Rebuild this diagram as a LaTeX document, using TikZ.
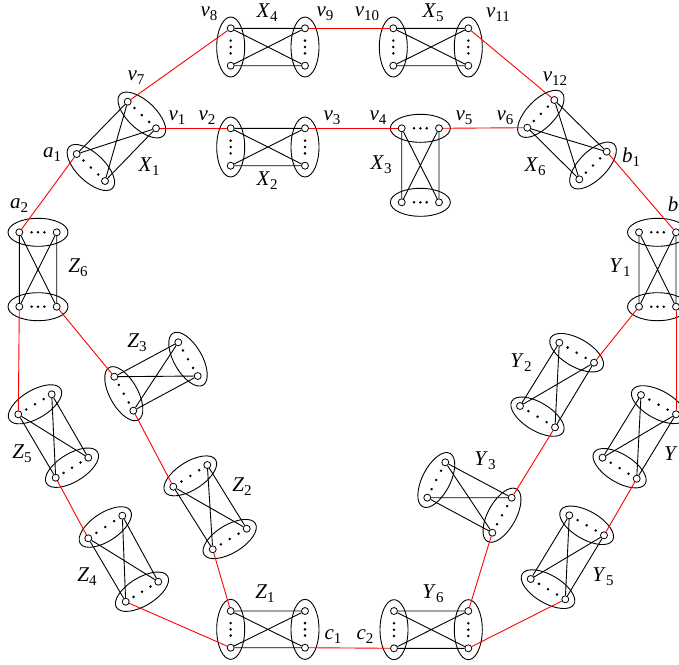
\documentclass[tikz,border=0pt]{standalone}
\usepackage{fontspec}
\setmainfont{Liberation Serif}
\usetikzlibrary{calc,shapes.geometric}
\tikzset{
  vtx/.style={circle, draw, fill=white, inner sep=0pt, minimum size=7pt, line width=0.8pt},
  grpell/.style={draw, ellipse, minimum width=60pt, minimum height=28pt, inner sep=0pt, line width=0.9pt},
  kedge/.style={line width=0.9pt},
  redline/.style={red, line width=0.9pt},
  lab/.style={font=\fontsize{21}{21}\selectfont, inner sep=0pt}
}
\newcommand\lb[2]{\textit{#1}\raisebox{-4pt}{\fontsize{15}{15}\selectfont #2}}
\newcommand\grpdraw[3]{%
  \path let \p1=(#1), \p2=(#2), \n1={atan2(\y2-\y1,\x2-\x1)} in
    node[grpell, rotate=\n1] at ($(#1)!0.5!(#2)$) {};
  \fill ($(#1)!0.5!(#2)$) circle[radius=1.4pt];
  \fill ($(#1)!0.5-#3!(#2)$) circle[radius=1.4pt];
  \fill ($(#1)!0.5+#3!(#2)$) circle[radius=1.4pt];
}
% #1 name, #2 dot spread, #3 #4 first group, #5 #6 second group
\newcommand\gad[6]{%
  \coordinate (#1p1) at (#3);
  \coordinate (#1p2) at (#4);
  \coordinate (#1q1) at (#5);
  \coordinate (#1q2) at (#6);
  \grpdraw{#1p1}{#1p2}{#2}
  \grpdraw{#1q1}{#1q2}{#2}
  \node[vtx] (#1a1) at (#1p1) {};
  \node[vtx] (#1a2) at (#1p2) {};
  \node[vtx] (#1b1) at (#1q1) {};
  \node[vtx] (#1b2) at (#1q2) {};
  \draw[kedge] (#1a1) -- (#1b1) (#1a1) -- (#1b2) (#1a2) -- (#1b1) (#1a2) -- (#1b2);
}
\begin{document}
\begin{tikzpicture}[x=1pt,y=-1pt]
\useasboundingbox (0,0) rectangle (679,664);
\clip (0,0) rectangle (679,664);
\fill[white] (0,0) rectangle (679,664);

% gadgets
\gad{X1}{0.26}{127.7,101.7}{156,128.3}{76.7,154}{105,181}
\gad{X2}{0.17}{230.7,128.3}{230.7,165.7}{305,128.3}{305,165.7}
\gad{X3}{0.17}{401.7,128.3}{439,128.3}{401.7,202.3}{439,202.3}
\gad{X4}{0.17}{230.7,28.3}{230.7,65.7}{305,28.3}{305,65.7}
\gad{X5}{0.17}{393.3,28.3}{393.3,65.7}{468.3,28.3}{468.3,65.7}
\gad{X6}{0.26}{554.3,100}{527.3,127.7}{606.7,151.7}{579.3,179.3}
\gad{Y1}{0.17}{639,232.3}{676,232.3}{639,306.7}{676,306.7}
\gad{Y2}{0.26}{559.3,342.7}{594,362.7}{520,406}{555,427.3}
\gad{Y3}{0.26}{445.3,462.3}{427.3,497.7}{511.7,497.7}{492.3,532.7}
\gad{Y4}{0.26}{641,395}{676,414.3}{602.5,457.7}{636.7,478.7}
\gad{Y5}{0.26}{569.3,515.3}{604,535.3}{530.7,579}{565.3,599.3}
\gad{Y6}{0.17}{394,611}{394,648.3}{468.3,611}{468.3,648.3}
\gad{Z1}{0.17}{230.7,611}{230.7,647.7}{305,611}{305,647.7}
\gad{Z2}{0.26}{173.3,486.7}{207.3,465}{212.7,549.3}{246.7,528.7}
\gad{Z3}{0.26}{114.3,376.7}{133.3,410.7}{178.3,342.3}{197.7,376}
\gad{Z4}{0.26}{88.3,538.3}{122.3,515.7}{125.7,601.7}{158.3,581.7}
\gad{Z5}{0.26}{18.3,414.3}{51.7,394.3}{55.7,477.7}{88.3,457.7}
\gad{Z6}{0.17}{19.3,232.3}{56.7,232.3}{19.3,306.7}{56.7,306.7}

% red connections
\draw[redline] (Z6a1) -- (X1b1);
\draw[redline] (X1a1) -- (X4a1);
\draw[redline] (X4b1) -- (X5a1);
\draw[redline] (X5b1) -- (X6a1);
\draw[redline] (X1a2) -- (X2a1);
\draw[redline] (X2b1) -- (X3a1);
\draw[redline] (X3a2) -- (X6a2);
\draw[redline] (X6b1) -- (Y1a2);
\draw[redline] (Y1b1) -- (Y2a2);
\draw[redline] (Y1b2) -- (Y4a2);
\draw[redline] (Y2b2) -- (Y3b1);
\draw[redline] (Y3b2) -- (Y6b1);
\draw[redline] (Y4b2) -- (Y5a2);
\draw[redline] (Y5b2) -- (Y6b2);
\draw[redline] (Y6a2) -- (Z1b2);
\draw[redline] (Z2b1) -- (Z1a1);
\draw[redline] (Z4b1) -- (Z1a2);
\draw[redline] (Z5b1) -- (Z4a1);
\draw[redline] (Z6b1) -- (Z5a1);
\draw[redline] (Z6b2) -- (Z3a1);
\draw[redline] (Z3a2) -- (Z2a1);

% labels
\node[lab] (lv8) at (209,14) {\lb{v}{8}};
\node[lab] (lX4) at (267,13) {\lb{X}{4}};
\node[lab] (lv9) at (325,14) {\lb{v}{9}};
\node[lab] (lv7) at (136,78) {\lb{v}{7}};
\node[lab] (lv1) at (177,118) {\lb{v}{1}};
\node[lab] (lv2) at (207,118) {\lb{v}{2}};
\node[lab] (lv3) at (332,118) {\lb{v}{3}};
\node[lab] (la1) at (52,155) {\lb{a}{1}};
\node[lab] (lX1) at (149,167) {\lb{X}{1}};
\node[lab] (lX2) at (267,181) {\lb{X}{2}};
\node[lab] (la2) at (19,206) {\lb{a}{2}};
\node[lab] (lv10) at (367,14) {\lb{v}{10}};
\node[lab] (lX5) at (433,13) {\lb{X}{5}};
\node[lab] (lv11) at (498,15) {\lb{v}{11}};
\node[lab] (lv4) at (378,118) {\lb{v}{4}};
\node[lab] (lv5) at (464,118) {\lb{v}{5}};
\node[lab] (lv6) at (505,118) {\lb{v}{6}};
\node[lab] (lv12) at (555,79) {\lb{v}{12}};
\node[lab] (lb1) at (631,157) {\lb{b}{1}};
\node[lab] (lX3) at (381,165) {\lb{X}{3}};
\node[lab] (lX6) at (535,167) {\lb{X}{6}};
\node[lab] (lb) at (673,204) {\textit{b}};
\node[lab] (lZ6) at (78,268) {\lb{Z}{6}};
\node[lab] (lZ3) at (137,343) {\lb{Z}{3}};
\node[lab] (lZ5) at (22,454) {\lb{Z}{5}};
\node[lab] (lZ4) at (87,577) {\lb{Z}{4}};
\node[lab] (lZ2) at (242,487) {\lb{Z}{2}};
\node[lab] (lZ1) at (265,594) {\lb{Z}{1}};
\node[lab] (lc1) at (333,637) {\lb{c}{1}};
\node[lab] (lY3) at (485,461) {\lb{Y}{3}};
\node[lab] (lY5) at (603,577) {\lb{Y}{5}};
\node[lab] (lY6) at (433,594) {\lb{Y}{6}};
\node[lab] (lc2) at (365,637) {\lb{c}{2}};
\node[lab] (lY1) at (620,268) {\lb{Y}{1}};
\node[lab] (lY2) at (521,363) {\lb{Y}{2}};
\node[lab] (lY) at (671,454) {\textit{Y}};
\end{tikzpicture}
\end{document}
